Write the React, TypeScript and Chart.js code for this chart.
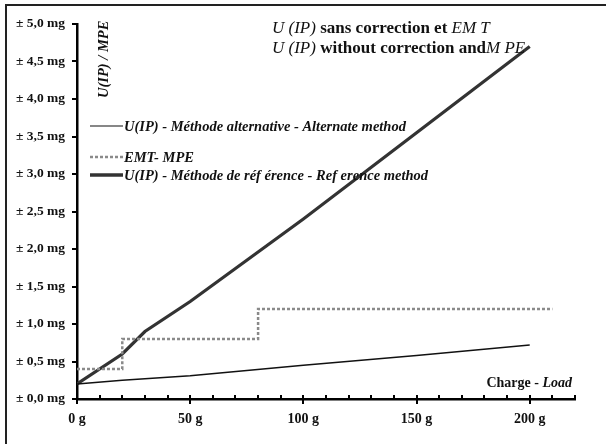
import React, { useEffect, useRef } from "react";
import { Chart, registerables } from "chart.js";

Chart.register(...registerables);

// ---- data ----
const altLoads = [0, 20, 30, 50, 100, 150, 200];
const altU = [0.2, 0.25, 0.27, 0.31, 0.45, 0.58, 0.72];

const emtLoads = [0, 20, 80, 210];
const emtValues = [0.4, 0.8, 1.2, 1.2];

const refLoads = [0, 20, 30, 50, 100, 150, 200];
const refU = [0.2, 0.6, 0.9, 1.3, 2.4, 3.55, 4.7];

const xTickValues = [0, 50, 100, 150, 200];
const xTickLabels = ["0 g", "50 g", "100 g", "150 g", "200 g"];
const yTickValues = [0, 0.5, 1, 1.5, 2, 2.5, 3, 3.5, 4, 4.5, 5];
const yTickLabels = [
  "± 0,0 mg", "± 0,5 mg", "± 1,0 mg", "± 1,5 mg", "± 2,0 mg", "± 2,5 mg",
  "± 3,0 mg", "± 3,5 mg", "± 4,0 mg", "± 4,5 mg", "± 5,0 mg",
];

const legendLabels = [
  "U(IP) - Méthode alternative - Alternate method",
  "EMT- MPE",
  "U(IP) - Méthode de réf érence - Ref erence method",
];

const SERIF = "'Liberation Serif', 'DejaVu Serif', serif";

const toXY = (xs: number[], ys: number[]) => xs.map((x, i) => ({ x, y: ys[i] }));

const decorPlugin = {
  id: "decor",
  afterDraw(chart: any) {
    const ctx = chart.ctx as CanvasRenderingContext2D;
    const xs = chart.scales.x;
    const ys = chart.scales.y;
    const area = chart.chartArea;
    ctx.save();

    // outer frame (open on right/bottom, as cropped)
    ctx.strokeStyle = "#222";
    ctx.lineWidth = 2;
    ctx.beginPath();
    ctx.moveTo(610, 5);
    ctx.lineTo(6, 5);
    ctx.lineTo(6, 450);
    ctx.stroke();

    // y ticks
    ctx.strokeStyle = "#000";
    ctx.lineWidth = 2;
    for (const v of yTickValues) {
      const py = Math.round(ys.getPixelForValue(v));
      ctx.beginPath();
      ctx.moveTo(area.left - 5, py);
      ctx.lineTo(area.left, py);
      ctx.stroke();
    }
    // x ticks (minor every 10, major every 50)
    for (let v = 0; v <= 220; v += 10) {
      const px = Math.round(xs.getPixelForValue(v));
      const major = v % 50 === 0;
      ctx.beginPath();
      ctx.moveTo(px, area.bottom - 4);
      ctx.lineTo(px, major ? area.bottom + 5 : area.bottom);
      ctx.stroke();
    }

    // title
    ctx.fillStyle = "#111";
    ctx.textBaseline = "alphabetic";
    ctx.textAlign = "left";
    const drawRuns = (runs: [string, string][], x: number, y: number) => {
      let cx = x;
      for (const [txt, font] of runs) {
        ctx.font = font;
        ctx.fillText(txt, cx, y);
        cx += ctx.measureText(txt).width;
      }
    };
    const it = `italic 17px ${SERIF}`;
    const bd = `bold 17px ${SERIF}`;
    drawRuns([["U (IP)", it], [" sans correction et ", bd], ["EM T", it]], 272, 33);
    drawRuns([["U (IP)", it], [" without correction and", bd], ["M PE", it]], 272, 53);

    // rotated y title (clipped at top)
    ctx.save();
    ctx.beginPath();
    ctx.rect(80, 21, 60, 100);
    ctx.clip();
    ctx.translate(108, 98);
    ctx.rotate(-Math.PI / 2);
    ctx.font = `bold italic 14.5px ${SERIF}`;
    ctx.fillText("U(IP) / MPE", 0, 0);
    ctx.restore();

    // legend
    const rows = [126, 157, 175];
    const styles = [
      { color: "#111", width: 1.2, dash: [] as number[] },
      { color: "#8a8a8a", width: 2.5, dash: [3, 2] },
      { color: "#333", width: 3.5, dash: [] as number[] },
    ];
    ctx.textBaseline = "middle";
    ctx.font = `bold italic 14.5px ${SERIF}`;
    rows.forEach((ry, i) => {
      const s = styles[i];
      ctx.strokeStyle = s.color;
      ctx.lineWidth = s.width;
      ctx.setLineDash(s.dash);
      ctx.beginPath();
      ctx.moveTo(90, ry);
      ctx.lineTo(123, ry);
      ctx.stroke();
      ctx.setLineDash([]);
      ctx.fillStyle = "#111";
      ctx.fillText(legendLabels[i], 124, ry + 1);
    });

    // x axis title
    ctx.textBaseline = "alphabetic";
    const a = "Charge - ";
    ctx.font = `bold italic 14px ${SERIF}`;
    const wb = ctx.measureText("Load").width;
    ctx.font = `bold 14px ${SERIF}`;
    const wa = ctx.measureText(a).width;
    const startX = 572 - wa - wb;
    ctx.fillText(a, startX, 387);
    ctx.font = `bold italic 14px ${SERIF}`;
    ctx.fillText("Load", startX + wa, 387);

    ctx.restore();
  },
};

export default function App() {
  const ref = useRef<HTMLCanvasElement | null>(null);

  useEffect(() => {
    if (!ref.current) return;
    const chart = new Chart(ref.current, {
      type: "line",
      data: {
        datasets: [
          {
            label: legendLabels[0],
            data: toXY(altLoads, altU),
            borderColor: "#111",
            borderWidth: 1.3,
            pointRadius: 0,
            tension: 0,
          },
          {
            label: legendLabels[1],
            data: toXY(emtLoads, emtValues),
            borderColor: "#8a8a8a",
            borderWidth: 2.5,
            borderDash: [3, 2],
            stepped: true,
            pointRadius: 0,
          },
          {
            label: legendLabels[2],
            data: toXY(refLoads, refU),
            borderColor: "#333",
            borderWidth: 3.2,
            pointRadius: 0,
            tension: 0,
          },
        ],
      },
      options: {
        responsive: false,
        animation: false,
        layout: { padding: { left: 7, right: 31, top: 24, bottom: 0 } },
        plugins: {
          legend: { display: false },
          tooltip: { enabled: false },
          title: { display: false },
        },
        scales: {
          x: {
            type: "linear",
            min: 0,
            max: 220,
            afterFit: (s: any) => {
              s.height = 45;
            },
            afterBuildTicks: (s: any) => {
              s.ticks = xTickValues.map((v) => ({ value: v }));
            },
            ticks: {
              autoSkip: false,
              maxRotation: 0,
              padding: 12,
              color: "#111",
              font: { family: SERIF, size: 14, weight: "bold" },
              callback: (v: any) => {
                const i = xTickValues.indexOf(Number(v));
                return i >= 0 ? xTickLabels[i] : "";
              },
            },
            grid: { drawOnChartArea: false, drawTicks: false, display: true, color: "rgba(0,0,0,0)" },
            border: { display: true, color: "#000", width: 2.5 },
          },
          y: {
            type: "linear",
            min: 0,
            max: 5,
            afterFit: (s: any) => {
              s.width = 70;
            },
            afterBuildTicks: (s: any) => {
              s.ticks = yTickValues.map((v) => ({ value: v }));
            },
            ticks: {
              autoSkip: false,
              padding: 12,
              color: "#111",
              font: { family: SERIF, size: 13.5, weight: "bold" },
              callback: (v: any) => {
                const i = yTickValues.indexOf(Number(v));
                return i >= 0 ? yTickLabels[i] : "";
              },
            },
            grid: { drawOnChartArea: false, drawTicks: false, display: true, color: "rgba(0,0,0,0)" },
            border: { display: true, color: "#000", width: 2.5 },
          },
        },
      },
      plugins: [decorPlugin],
    } as any);
    return () => chart.destroy();
  }, []);

  return (
    <div style={{ position: "absolute", left: 0, top: 0, width: 606, height: 444, background: "#fff" }}>
      <canvas ref={ref} width={606} height={444} style={{ display: "block", width: 606, height: 444 }} />
    </div>
  );
}
